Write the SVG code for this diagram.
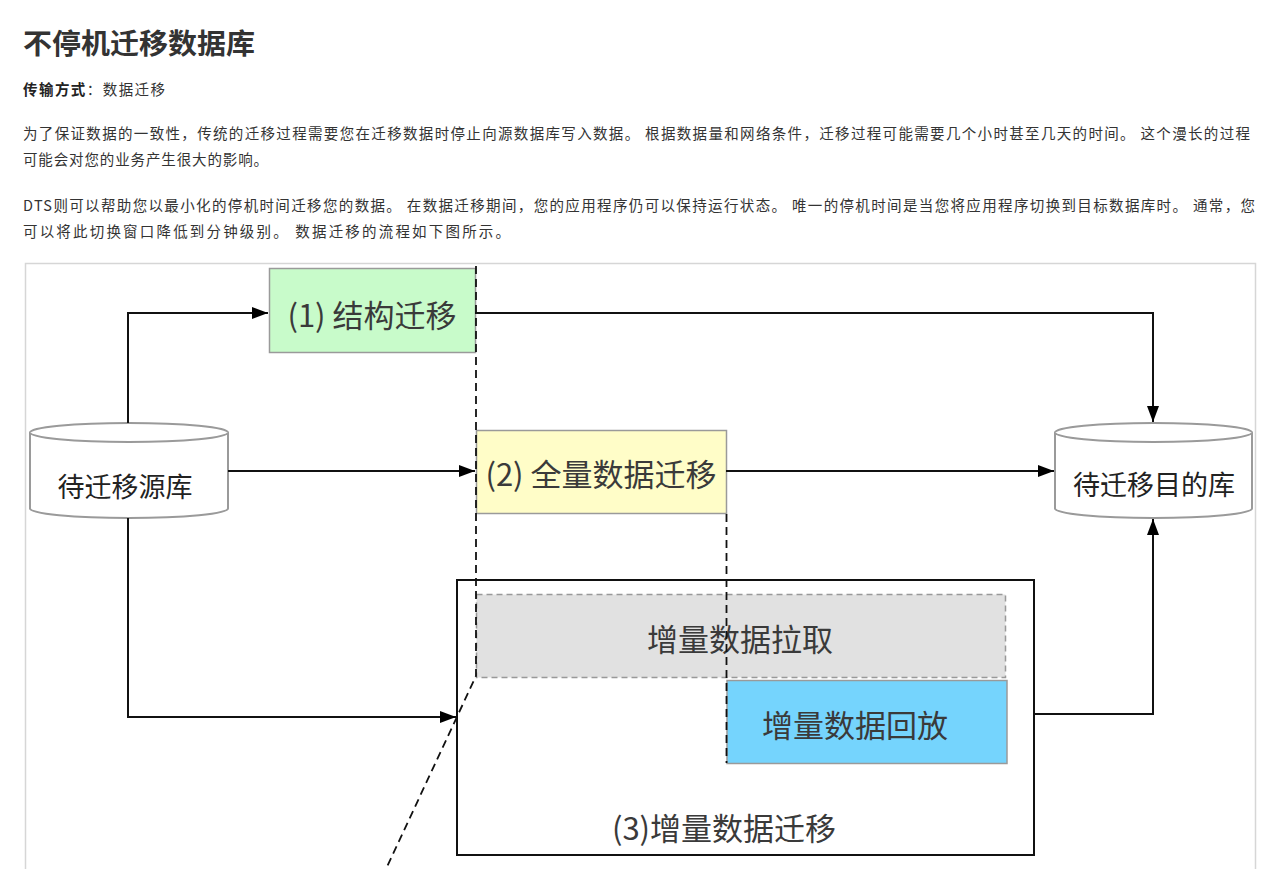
<svg xmlns="http://www.w3.org/2000/svg" width="1269" height="869" viewBox="0 0 1269 869">
<style>
.t{font-family:"Noto Sans CJK SC","Liberation Sans",sans-serif;fill:#333}
.p{font-size:14.5px}
.n{font-size:31px;text-anchor:middle;dominant-baseline:central;fill:#3a3a3a}
.c{font-size:27px;text-anchor:middle;dominant-baseline:central;fill:#222}
.box{stroke:#9a9a9a;stroke-width:1.5}
.ln{fill:none;stroke:#111;stroke-width:2}
.dash{fill:none;stroke:#111;stroke-width:1.8;stroke-dasharray:8 5}
.cyl{fill:#fff;stroke:#9a9a9a;stroke-width:2}
</style>
<defs>
<marker id="ah" viewBox="0 0 16 12" refX="16" refY="6" markerWidth="16" markerHeight="12" markerUnits="userSpaceOnUse" orient="auto">
<path d="M0 0 L16 6 L0 12 Z" fill="#000"/>
</marker>
</defs>
<rect width="1269" height="869" fill="#fff"/>
<g id="header">
<text class="t" x="23" y="54" font-size="28" font-weight="bold" fill="#1a1a1a" textLength="232" lengthAdjust="spacingAndGlyphs">不停机迁移数据库</text>
<text class="t p" x="23" y="95" textLength="142" lengthAdjust="spacing"><tspan font-weight="bold" fill="#222">传输方式</tspan>：数据迁移</text>
<text class="t p" x="23" y="139" textLength="1227" lengthAdjust="spacing">为了保证数据的一致性，传统的迁移过程需要您在迁移数据时停止向源数据库写入数据。 根据数据量和网络条件，迁移过程可能需要几个小时甚至几天的时间。 这个漫长的过程</text>
<text class="t p" x="23" y="165" textLength="245" lengthAdjust="spacing">可能会对您的业务产生很大的影响。</text>
<text class="t p" x="23" y="211" textLength="1232" lengthAdjust="spacing">DTS则可以帮助您以最小化的停机时间迁移您的数据。 在数据迁移期间，您的应用程序仍可以保持运行状态。 唯一的停机时间是当您将应用程序切换到目标数据库时。 通常，您</text>
<text class="t p" x="23" y="237" textLength="487" lengthAdjust="spacing">可以将此切换窗口降低到分钟级别。 数据迁移的流程如下图所示。</text>
</g>
<rect x="25.5" y="263.5" width="1230" height="640" fill="#fff" stroke="#d6d6d6" stroke-width="1.5"/>
<g id="n-incr">
<rect x="457" y="580" width="577" height="275" fill="#fff" stroke="#111" stroke-width="2"/>
<text class="t n" x="724" y="826" fill="#222">(3)增量数据迁移</text>
</g>
<g id="n-struct">
<rect class="box" x="269.5" y="268.5" width="206" height="84" fill="#c8fbca"/>
<text class="t n" x="372" y="313">(1) 结构迁移</text>
</g>
<g id="n-full">
<rect class="box" x="476.5" y="430.5" width="250" height="83" fill="#fffdc8"/>
<text class="t n" x="601" y="472">(2) 全量数据迁移</text>
</g>
<g id="n-pull">
<rect x="476.5" y="594.5" width="529" height="83" fill="#e1e1e1" stroke="#999" stroke-width="1.5" stroke-dasharray="6 4"/>
<text class="t n" x="740" y="637" fill="#222">增量数据拉取</text>
</g>
<g id="n-replay">
<rect class="box" x="727" y="680.5" width="280" height="83" fill="#75d4fd"/>
<text class="t n" x="855" y="723">增量数据回放</text>
</g>
<g id="n-src">
<path class="cyl" d="M30 432.5 A99 9.5 0 0 1 228 432.5 V508.5 A99 9.5 0 0 1 30 508.5 Z"/>
<path class="cyl" fill="none" d="M30 432.5 A99 9.5 0 0 0 228 432.5"/>
<text class="t c" x="125" y="485">待迁移源库</text>
</g>
<g id="n-dst">
<path class="cyl" d="M1055 432.5 A98.5 9.5 0 0 1 1252 432.5 V508.5 A98.5 9.5 0 0 1 1055 508.5 Z"/>
<path class="cyl" fill="none" d="M1055 432.5 A98.5 9.5 0 0 0 1252 432.5"/>
<text class="t c" x="1154" y="483">待迁移目的库</text>
</g>
<g id="connectors">
<path class="ln" d="M128 423 V313 H268" marker-end="url(#ah)"/>
<path class="ln" d="M475 313 H1153 V422" marker-end="url(#ah)"/>
<path class="ln" d="M228 471 H475" marker-end="url(#ah)"/>
<path class="ln" d="M726 471 H1054" marker-end="url(#ah)"/>
<path class="ln" d="M128 518 V717 H456" marker-end="url(#ah)"/>
<path class="ln" d="M1034 714 H1153 V519" marker-end="url(#ah)"/>
<path class="dash" d="M476 266 V676 L386 869"/>
<path class="dash" d="M726.5 514 V763"/>
</g>
</svg>
